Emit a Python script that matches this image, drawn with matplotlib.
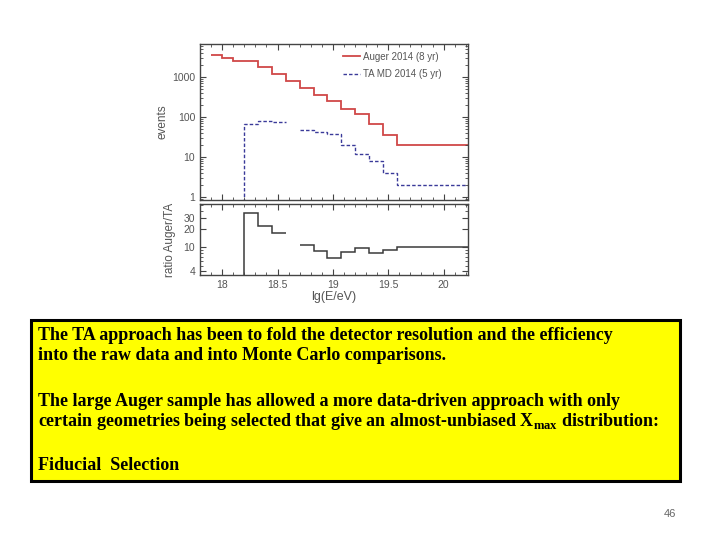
import numpy as np
import matplotlib
matplotlib.use("Agg")
import matplotlib.pyplot as plt
from matplotlib.patches import Rectangle
from matplotlib.ticker import FixedLocator, NullFormatter, LogLocator, MultipleLocator
from matplotlib.transforms import Bbox

# ---- data ----
edges = [17.9, 18.0, 18.1, 18.2, 18.325, 18.45, 18.575, 18.7, 18.825,
         18.95, 19.075, 19.2, 19.325, 19.45, 19.575, 20.4]
auger_events = [3500, 2880, 2460, 2460, 1720, 1170, 770, 510, 343,
                243, 153, 115, 65, 35, 19.5]
ta_events = [np.nan, np.nan, 0, 65, 79, 72, np.nan, 48, 42,
             38, 19.5, 12, 8, 4, 2]
ratio = [np.nan, np.nan, 0, 37.6, 22.4, 17.0, np.nan, 10.9, 8.7,
         6.6, 8.3, 9.6, 8.1, 9.1, 10.0]
ratio_ticks = [4, 10, 20, 30]
x_ticks = [18, 18.5, 19, 19.5, 20]
x_tick_labels = ["18", "18.5", "19", "19.5", "20"]
legend_labels = ["Auger 2014 (8 yr)", "TA MD 2014 (5 yr)"]

text_lines = [
    "The TA approach has been to fold the detector resolution and the efficiency",
    "into the raw data and into Monte Carlo comparisons.",
    "The large Auger sample has allowed a more data-driven approach with only",
    r"certain geometries being selected that give an almost-unbiased X$_{\mathregular{max}}$ distribution:",
    "Fiducial  Selection",
]
page_number = "46"

plt.rcParams['mathtext.fontset'] = 'custom'
plt.rcParams['mathtext.rm'] = 'Liberation Serif:bold'
plt.rcParams['mathtext.bf'] = 'Liberation Serif:bold'

W, H = 720, 540
fig = plt.figure(figsize=(7.2, 5.4), dpi=100)

def fx(px):
    return px / W

def fy(py):
    return 1 - py / H

gray = "#555555"
framec = "#444444"
sans = "Liberation Sans"

ax1 = fig.add_axes([fx(200), fy(200), fx(468) - fx(200), fy(44) - fy(200)])
ax2 = fig.add_axes([fx(200), fy(275), fx(468) - fx(200), fy(204) - fy(275)])

e = np.array(edges)
ax1.stairs(auger_events, e, baseline=None, color="#d04848", lw=1.3,
           label=legend_labels[0])
ax1.stairs(ta_events, e, baseline=None, color="#3a3a99", lw=1.0,
           linestyle=(0, (2.5, 1.5)), label=legend_labels[1])
ax1.set_yscale("log", nonpositive="clip")
ax1.set_ylim(0.83, 6600)
ax1.set_xlim(17.8, 20.22)

ax2.stairs(ratio, e, baseline=None, color="#3a3a3a", lw=1.1)
ax2.set_yscale("log", nonpositive="clip")
ax2.set_ylim(3.5, 52)
ax2.set_xlim(17.8, 20.22)

for ax in (ax1, ax2):
    for s in ax.spines.values():
        s.set_color(framec)
        s.set_linewidth(1.0)
    ax.xaxis.set_major_locator(FixedLocator(x_ticks))
    ax.xaxis.set_minor_locator(MultipleLocator(0.1))
    ax.tick_params(which="both", direction="in", top=True, right=True,
                   colors=framec, labelcolor=gray, labelsize=7.5)
    ax.tick_params(which="major", length=4, width=0.8)
    ax.tick_params(which="minor", length=2.5, width=0.6)

ax1.set_xticklabels([])
ax1.yaxis.set_minor_locator(LogLocator(base=10, subs=np.arange(2, 10), numticks=10))
ax1.yaxis.set_minor_formatter(NullFormatter())
ax1.set_yticks([1, 10, 100, 1000])
ax1.set_yticklabels(["1", "10", "100", "1000"], fontfamily=sans)

ax2.set_yticks(ratio_ticks)
ax2.set_yticklabels([str(t) for t in ratio_ticks], fontfamily=sans)
ax2.yaxis.set_minor_locator(FixedLocator([5, 6, 7, 8, 9, 40, 50]))
ax2.yaxis.set_minor_formatter(NullFormatter())
ax2.set_xticklabels(x_tick_labels, fontfamily=sans)

ax1.set_ylabel("events", fontsize=8.5, color=gray, fontfamily=sans)
ax1.yaxis.set_label_coords((168 - 200) / 268, 0.5)
ax2.set_xlabel("lg(E/eV)", fontsize=9, color=gray, fontfamily=sans, labelpad=1)

yl = fig.text(fx(169.5), fy(240), "ratio Auger/TA", rotation=90, fontsize=8.5,
              color=gray, fontfamily=sans, ha="center", va="center")
yl.set_clip_box(Bbox.from_extents(163, 0, 720, 540))
yl.set_clip_on(True)

leg = ax1.legend(loc="upper right", bbox_to_anchor=(1 - 22 / 268, 1 - 4 / 156),
                 frameon=False, handlelength=1.8,
                 labelspacing=0.75, borderaxespad=0.0, handletextpad=0.35,
                 prop={"family": sans, "size": 7})
for t in leg.get_texts():
    t.set_color(gray)

# text box
fig.patches.append(Rectangle((fx(31), fy(481)), fx(680) - fx(31), fy(320) - fy(481),
                             transform=fig.transFigure, facecolor="#ffff00",
                             edgecolor="black", lw=2.2, zorder=0))
ys = [336, 356, 401, 422, 465]
for t, y in zip(text_lines, ys):
    fig.text(fx(38), fy(y), t, fontsize=13, fontweight="bold",
             fontfamily="Liberation Serif", ha="left", va="center", color="black")

fig.text(fx(670), fy(514), page_number, fontsize=8, color="#666666",
         fontfamily=sans, ha="center", va="center")

fig.savefig("out.png", dpi=100)
